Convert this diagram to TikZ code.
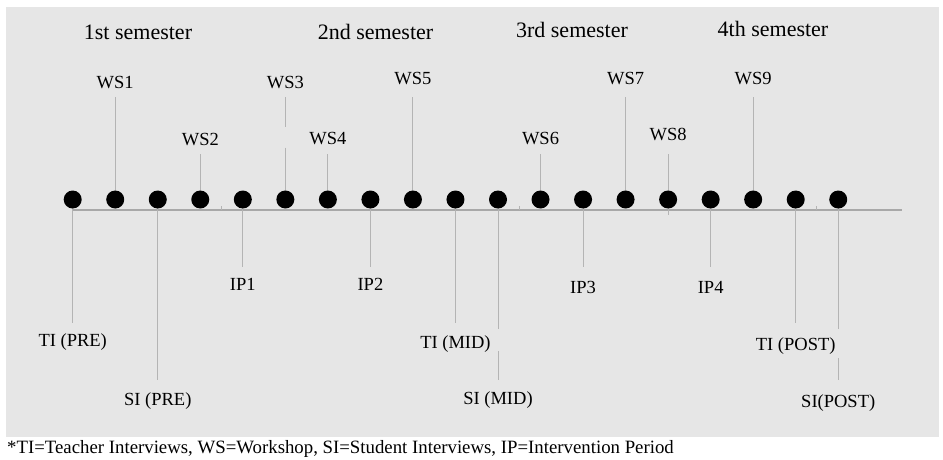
\documentclass[tikz,border=0pt]{standalone}
\usepackage{fontspec}
\setmainfont{Liberation Serif}
\definecolor{bgc}{HTML}{E6E6E6}
\definecolor{lnc}{HTML}{B4B4B4}
\definecolor{tlc}{HTML}{A8A8A8}
\pgfdeclarelayer{back}
\pgfdeclarelayer{lines}
\pgfsetlayers{back,lines,main}
\begin{document}
\begin{tikzpicture}[x=1pt,y=-1pt,
  dot/.style={circle,fill=black,minimum size=18pt,inner sep=0pt},
  sem/.style={font=\fontsize{22}{26}\selectfont,anchor=base,inner sep=0pt},
  lbl/.style={font=\fontsize{18.5}{22}\selectfont,anchor=base,inner sep=0pt},
  conn/.style={draw=lnc,line width=1pt},
  tline/.style={draw=tlc,line width=2pt},
]
\useasboundingbox (0,0) rectangle (943,459);
\begin{pgfonlayer}{back}
  \fill[bgc] (6,7) rectangle (939,437);
\end{pgfonlayer}

% dots
\foreach \i in {0,...,18} {
  \node[dot] (d\i) at ({72.7+42.53*\i},199.5) {};
}

% semesters
\node[sem] (s1) at (138,39.3) {1st semester};
\node[sem] (s2) at (375.5,39.3) {2nd semester};
\node[sem] (s3) at (572,37.3) {3rd semester};
\node[sem] (s4) at (773,36.7) {4th semester};

% upper labels
\node[lbl] (ws1) at (d1 |- 0,88) {WS1};
\node[lbl] (ws2) at (d3 |- 0,145) {WS2};
\node[lbl] (ws3) at (d5 |- 0,88) {WS3};
\node[lbl] (ws4) at (d6 |- 0,144.5) {WS4};
\node[lbl] (ws5) at (d8 |- 0,84) {WS5};
\node[lbl] (ws6) at (d11 |- 0,144) {WS6};
\node[lbl] (ws7) at (d13 |- 0,84) {WS7};
\node[lbl] (ws8) at (d14 |- 0,140.7) {WS8};
\node[lbl] (ws9) at (d16 |- 0,84) {WS9};

% lower labels
\node[lbl] (tipre) at (d0 |- 0,346.7) {TI (PRE)};
\node[lbl] (sipre) at (d2 |- 0,405) {SI (PRE)};
\node[lbl] (ip1) at (d4 |- 0,290.7) {IP1};
\node[lbl] (ip2) at (d7 |- 0,290.7) {IP2};
\node[lbl] (timid) at (d9 |- 0,348.3) {TI (MID)};
\node[lbl] (simid) at (d10 |- 0,404.3) {SI (MID)};
\node[lbl] (ip3) at (d12 |- 0,293.3) {IP3};
\node[lbl] (ip4) at (d15 |- 0,293.3) {IP4};
\node[lbl] (tipost) at (d17 |- 0,350.7) {TI (POST)};
\node[lbl] (sipost) at (d18 |- 0,407.3) {SI(POST)};

% footnote
\node[lbl,font=\fontsize{18.8}{22}\selectfont,anchor=base west] (note) at (7,453) {*TI=Teacher Interviews, WS=Workshop, SI=Student Interviews, IP=Intervention Period};

% connector end points
\coordinate (tls) at (d0 |- 0,210);
\coordinate (tle) at (902,210);
\coordinate (w1t) at (d1 |- 0,97.3);
\coordinate (w2t) at (d3 |- 0,154);
\coordinate (w3t) at (d5 |- 0,97.3);
\coordinate (w3a) at (d5 |- 0,126.7);
\coordinate (w3b) at (d5 |- 0,147.7);
\coordinate (w4t) at (d6 |- 0,154);
\coordinate (w5t) at (d8 |- 0,97.3);
\coordinate (w6t) at (d11 |- 0,154);
\coordinate (w7t) at (d13 |- 0,97.3);
\coordinate (w8t) at (d14 |- 0,154);
\coordinate (w8b) at (d14 |- 0,215);
\coordinate (w9t) at (d16 |- 0,97.3);
\coordinate (tpreb) at (d0 |- 0,323);
\coordinate (spreb) at (d2 |- 0,380);
\coordinate (ip1b) at (d4 |- 0,267);
\coordinate (ip2b) at (d7 |- 0,267);
\coordinate (tmidb) at (d9 |- 0,323);
\coordinate (smida) at (d10 |- 0,329);
\coordinate (smidb) at (d10 |- 0,351);
\coordinate (smidc) at (d10 |- 0,380);
\coordinate (ip3b) at (d12 |- 0,267);
\coordinate (ip4b) at (d15 |- 0,267);
\coordinate (tpostb) at (d17 |- 0,323);
\coordinate (sposta) at (d18 |- 0,329);
\coordinate (spostb) at (d18 |- 0,358);
\coordinate (spostc) at (d18 |- 0,380);
\coordinate (k1a) at (221.7,206); \coordinate (k1b) at (221.7,210);
\coordinate (k2a) at (519.3,206); \coordinate (k2b) at (519.3,210);
\coordinate (k3a) at (816.7,206); \coordinate (k3b) at (816.7,210);

\begin{pgfonlayer}{lines}
  \draw[tline] (tls) -- (tle);
  \draw[conn] (k1a) -- (k1b);
  \draw[conn] (k2a) -- (k2b);
  \draw[conn] (k3a) -- (k3b);
  % upward
  \draw[conn] (w1t) -- (d1.center);
  \draw[conn] (w2t) -- (d3.center);
  \draw[conn] (w3t) -- (w3a);
  \draw[conn] (w3b) -- (d5.center);
  \draw[conn] (w4t) -- (d6.center);
  \draw[conn] (w5t) -- (d8.center);
  \draw[conn] (w6t) -- (d11.center);
  \draw[conn] (w7t) -- (d13.center);
  \draw[conn] (w8t) -- (w8b);
  \draw[conn] (w9t) -- (d16.center);
  % downward
  \draw[conn] (d0.center) -- (tpreb);
  \draw[conn] (d2.center) -- (spreb);
  \draw[conn] (d4.center) -- (ip1b);
  \draw[conn] (d7.center) -- (ip2b);
  \draw[conn] (d9.center) -- (tmidb);
  \draw[conn] (d10.center) -- (smida);
  \draw[conn] (smidb) -- (smidc);
  \draw[conn] (d12.center) -- (ip3b);
  \draw[conn] (d15.center) -- (ip4b);
  \draw[conn] (d17.center) -- (tpostb);
  \draw[conn] (d18.center) -- (sposta);
  \draw[conn] (spostb) -- (spostc);
\end{pgfonlayer}
\end{tikzpicture}
\end{document}
